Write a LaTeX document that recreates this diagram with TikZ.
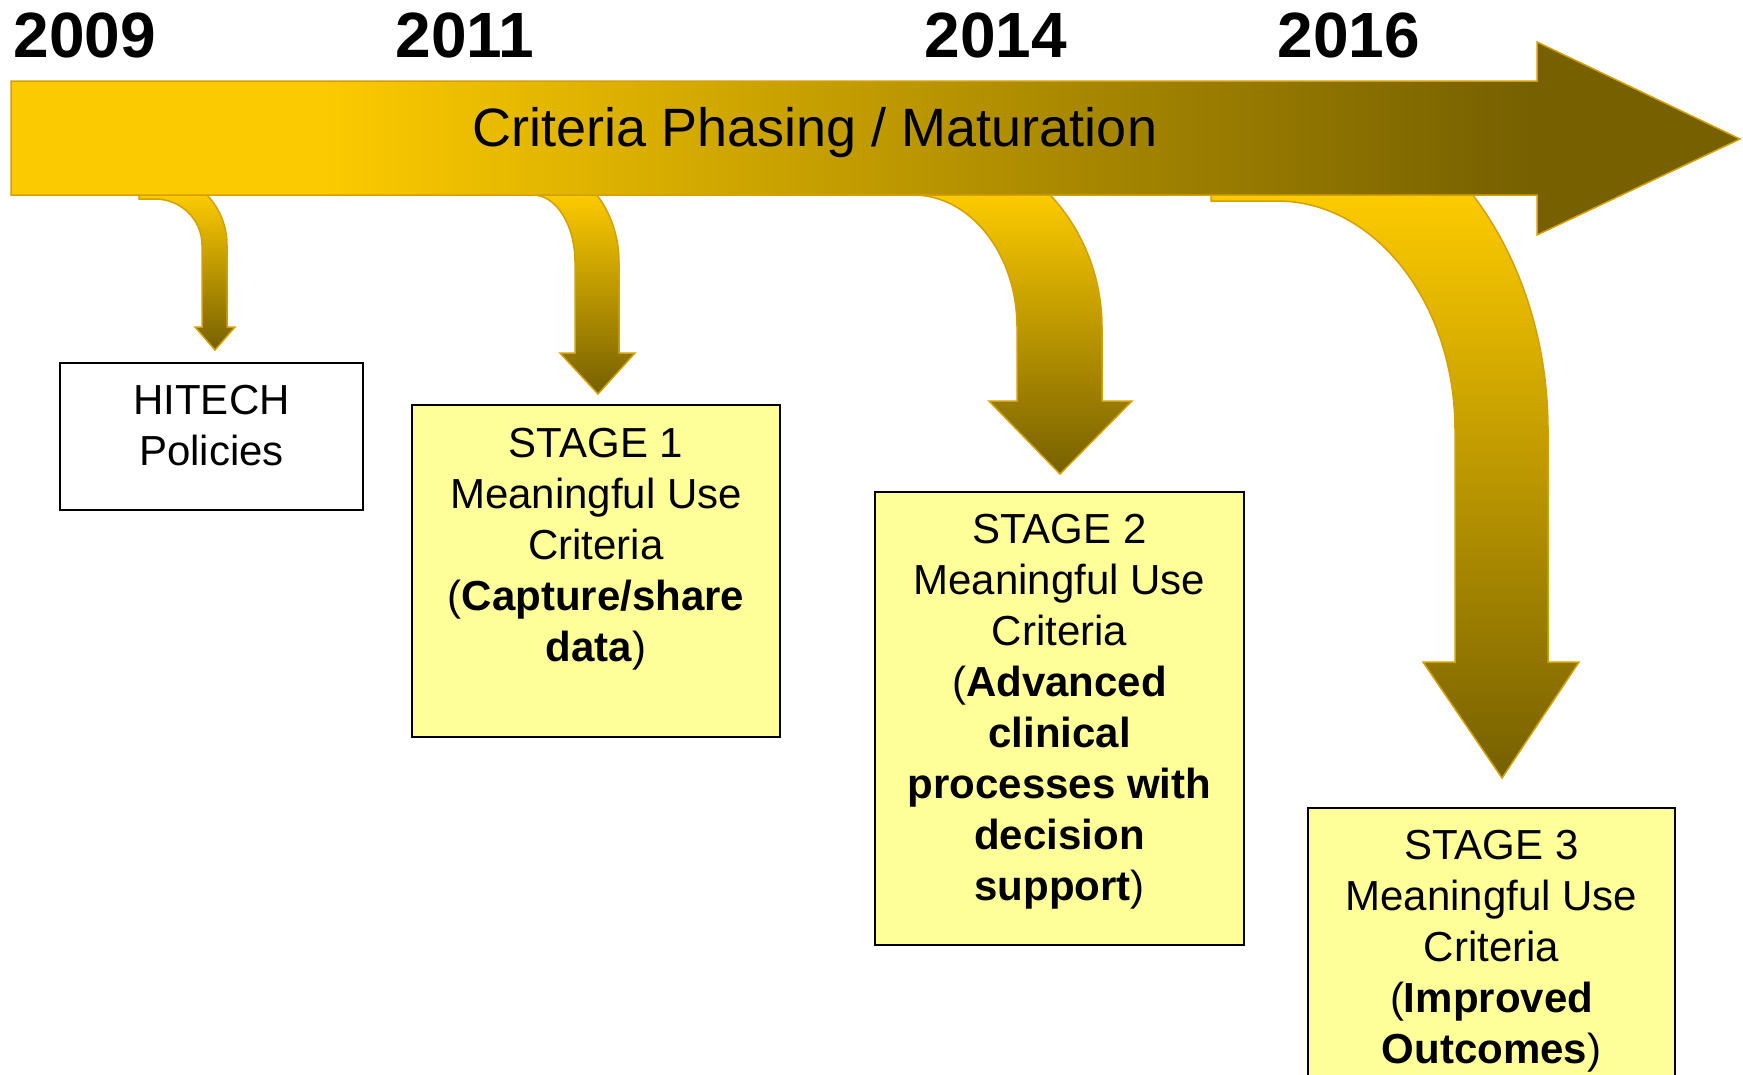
\documentclass[tikz,border=0pt]{standalone}
\usepackage{fontspec}
\setmainfont{Liberation Sans}
\usepackage{tikz}

\definecolor{gold}{RGB}{252,202,0}
\definecolor{olive}{RGB}{118,96,0}
\definecolor{goldline}{RGB}{212,160,0}
\definecolor{notefill}{RGB}{255,255,153}

% only the middle 50bp of a shading is spread over the path
\pgfdeclarehorizontalshading{barshade}{100bp}{color(0bp)=(gold); color(34bp)=(gold); color(69bp)=(olive); color(100bp)=(olive)}

\tikzset{
  timebar/.style={shading=barshade, draw=goldline, line width=1.5pt},
  droparrow/.style={top color=gold, bottom color=olive, draw=goldline, line width=1.5pt},
  yearlabel/.style={font=\fontsize{64}{70}\selectfont\bfseries, anchor=base},
  notebox/.style={draw=black, line width=2pt, fill=notefill, inner sep=0pt, anchor=north west, font=\fontsize{42}{51}\selectfont}
}

\begin{document}
\begin{tikzpicture}[x=1pt,y=1pt]
\useasboundingbox (0,0) rectangle (1743,-1074);
\clip (0,0) rectangle (1743,-1074);

% drop arrows (under the time bar)
\draw[droparrow] (139,-195) -- (139,-199) -- (155,-199)
  arc[start angle=90, end angle=0, x radius=47, y radius=46]
  -- (202,-327) -- (195,-327) -- (215,-350) -- (235,-327) -- (227,-327)
  -- (227,-245) arc[start angle=0, end angle=43.8, x radius=72, y radius=72.3] -- cycle;
\draw[droparrow] (533,-195)
  arc[start angle=90, end angle=0, x radius=42, y radius=67]
  -- (575,-353) -- (560,-353) -- (598,-394) -- (635,-353) -- (619,-353)
  -- (619,-262) arc[start angle=0, end angle=41.9, x radius=86, y radius=100] -- cycle;
\draw[droparrow] (913,-195)
  arc[start angle=90, end angle=0, x radius=104, y radius=132]
  -- (1017,-401) -- (989,-401) -- (1060,-474) -- (1132,-401) -- (1102,-401)
  -- (1102,-327) arc[start angle=0, end angle=43.5, x radius=189, y radius=192] -- cycle;
\draw[droparrow] (1211,-195) -- (1211,-201) -- (1277,-201)
  arc[start angle=90, end angle=0, x radius=178, y radius=229]
  -- (1455,-662) -- (1423,-662) -- (1502,-778) -- (1579,-662) -- (1548,-662)
  -- (1548,-430) arc[start angle=0, end angle=43.7, x radius=271, y radius=340] -- cycle;

% time bar
\shadedraw[timebar] (11,-81) -- (1537,-81) -- (1537,-42) -- (1740,-139)
  -- (1537,-235) -- (1537,-195) -- (11,-195) -- cycle;
\node[font=\fontsize{54}{60}\selectfont, anchor=base] (phase) at (815,-146) {Criteria Phasing / Maturation};

\node[yearlabel] (y2009) at (85,-57) {2009};
\node[yearlabel] (y2011) at (465,-57) {2011};
\node[yearlabel] (y2014) at (996,-57) {2014};
\node[yearlabel] (y2016) at (1349,-57) {2016};

% boxes
\node[notebox, fill=white] (hitech) at (59,-362)
  {\parbox[t][147pt][t]{303pt}{\centering\rule{0pt}{51pt}HITECH\\ Policies}};
\node[notebox] (stage1) at (411,-404)
  {\parbox[t][332pt][t]{368pt}{\centering\rule{0pt}{52pt}STAGE 1\\ Meaningful Use\\ Criteria\\
   (\textbf{Capture/share}\\ \textbf{data})}};
\node[notebox] (stage2) at (874,-491)
  {\parbox[t][453pt][t]{369pt}{\centering\rule{0pt}{51pt}STAGE 2\\ Meaningful Use\\ Criteria\\
   (\textbf{Advanced}\\ \textbf{clinical}\\ \textbf{processes with}\\ \textbf{decision}\\ \textbf{support})}};
\node[notebox] (stage3) at (1307,-807)
  {\parbox[t][300pt][t]{367pt}{\centering\rule{0pt}{51pt}STAGE 3\\ Meaningful Use\\ Criteria\\
   (\textbf{Improved}\\ \textbf{Outcomes})}};

\end{tikzpicture}
\end{document}
